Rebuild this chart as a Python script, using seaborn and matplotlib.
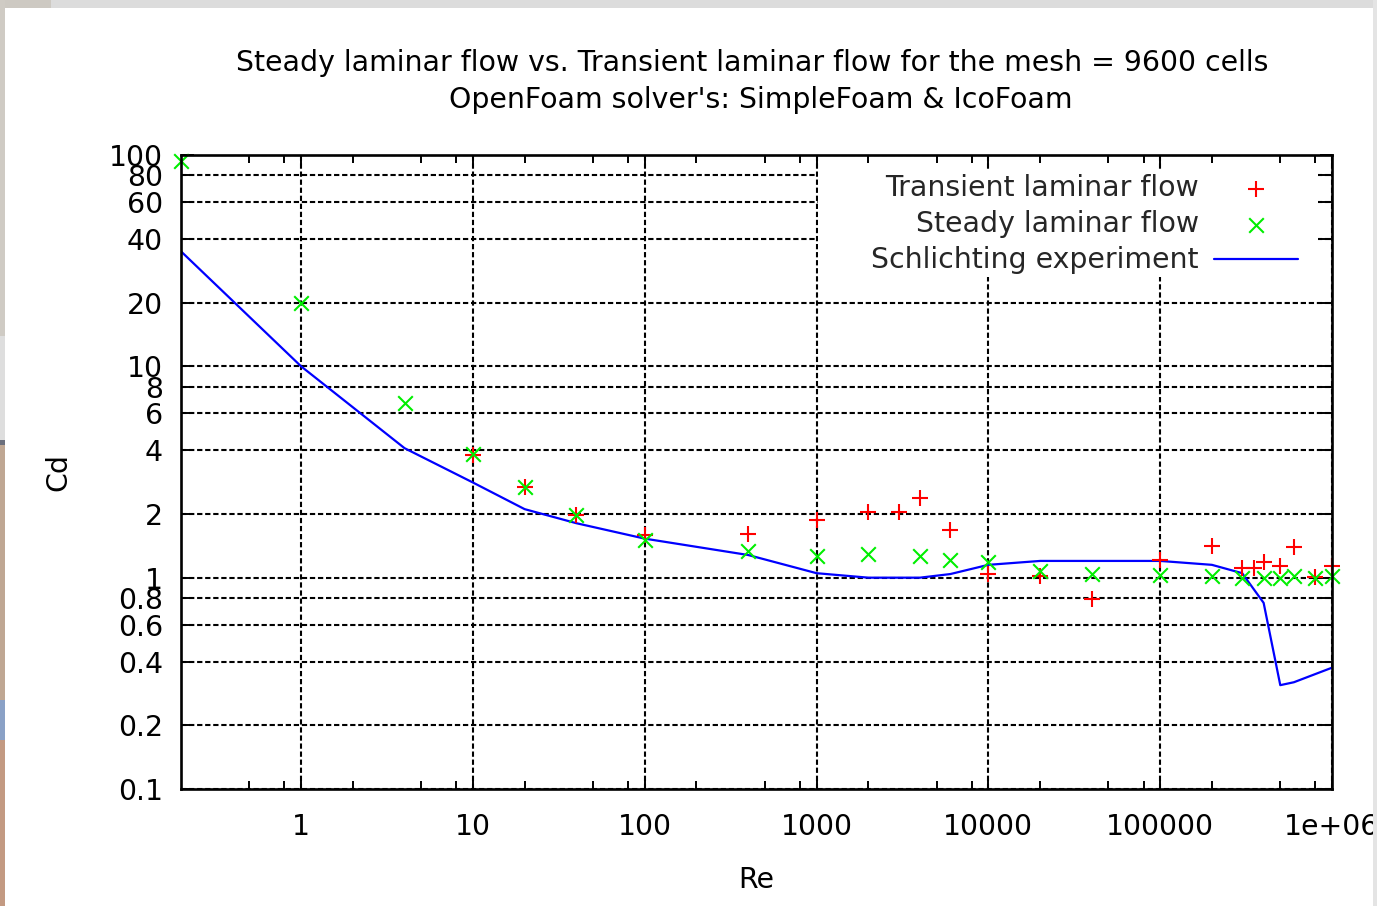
import matplotlib
matplotlib.use("Agg")
import matplotlib.pyplot as plt
from matplotlib.patches import Rectangle
from matplotlib.ticker import FixedLocator, FixedFormatter, NullFormatter
import numpy as np
import pandas as pd
import seaborn as sns

# Transient laminar flow (IcoFoam)
re_transient = [10, 20, 40, 100, 400, 1000, 2000, 3000, 4000, 6000, 10000, 20000,
                40000, 100000, 200000, 300000, 350000, 400000, 500000, 600000,
                800000, 1000000]
cd_transient = [3.82, 2.70, 1.98, 1.60, 1.61, 1.87, 2.05, 2.05, 2.37, 1.69, 1.04, 1.02,
                0.79, 1.21, 1.41, 1.11, 1.11, 1.19, 1.13, 1.40, 1.01, 1.13]

# Steady laminar flow (SimpleFoam)
re_steady = [0.2, 1, 4, 10, 20, 40, 100, 400, 1000, 2000, 4000, 6000, 10000, 20000,
             40000, 100000, 200000, 300000, 400000, 500000, 600000, 800000, 1000000]
cd_steady = [94, 20, 6.7, 3.85, 2.69, 1.98, 1.51, 1.34, 1.27, 1.30, 1.26, 1.21, 1.19,
             1.07, 1.04, 1.03, 1.02, 1.0, 1.0, 1.0, 1.02, 1.0, 1.02]

# Schlichting experimental curve
re_schlichting = [0.2, 1, 4, 10, 20, 40, 100, 400, 1000, 2000, 4000, 6000, 10000, 20000,
                  100000, 200000, 300000, 400000, 500000, 600000, 1000000]
cd_schlichting = [35, 10, 4.1, 2.82, 2.11, 1.81, 1.53, 1.28, 1.05, 1.0, 1.0, 1.04, 1.15,
                  1.20, 1.20, 1.15, 1.05, 0.76, 0.31, 0.32, 0.375]

y_ticks = [0.1, 0.2, 0.4, 0.6, 0.8, 1, 2, 4, 6, 8, 10, 20, 40, 60, 80, 100]
y_tick_labels = ["0.1", "0.2", "0.4", "0.6", "0.8", "1", "2", "4", "6", "8",
                 "10", "20", "40", "60", "80", "100"]
x_ticks = [1, 10, 100, 1000, 10000, 100000, 1000000]
x_tick_labels = ["1", "10", "100", "1000", "10000", "100000", "1e+06"]

title_line1 = "Steady laminar flow vs. Transient laminar flow for the mesh = 9600 cells"
title_line2 = "OpenFoam solver's: SimpleFoam & IcoFoam"

FS = 20.4

sns.set_theme(style="white")
plt.rcParams["font.family"] = ["DejaVu Sans"]
plt.rcParams["lines.scale_dashes"] = False

W, H = 1377, 906
fig = plt.figure(figsize=(W / 100, H / 100), dpi=100, facecolor="white")

# window chrome around the plot
def band(x0, y0, x1, y1, color):
    fig.patches.append(Rectangle((x0 / W, 1 - y1 / H), (x1 - x0) / W, (y1 - y0) / H,
                                 transform=fig.transFigure, facecolor=color,
                                 edgecolor="none", zorder=10))

L, R, T, B = 181, 1332, 155, 789
ax = fig.add_axes([L / W, 1 - B / H, (R - L) / W, (B - T) / H])
ax.set_xscale("log")
ax.set_yscale("log")
ax.set_xlim(0.2, 1e6)
ax.set_ylim(0.1, 100)

df_t = pd.DataFrame({"Re": re_transient, "Cd": cd_transient})
df_s = pd.DataFrame({"Re": re_steady, "Cd": cd_steady})
df_e = pd.DataFrame({"Re": re_schlichting, "Cd": cd_schlichting})

sns.scatterplot(data=df_t, x="Re", y="Cd", ax=ax, marker="+", color="#ff0000",
                s=120, linewidth=1.5, label="Transient laminar flow", zorder=4,
                clip_on=False)
sns.scatterplot(data=df_s, x="Re", y="Cd", ax=ax, marker="x", color="#00ee00",
                s=110, linewidth=1.5, label="Steady laminar flow", zorder=4,
                clip_on=False)
sns.lineplot(data=df_e, x="Re", y="Cd", ax=ax, color="#0000ff", linewidth=1.6,
             label="Schlichting experiment", zorder=3, estimator=None, sort=False)

# ticks and grid
ax.yaxis.set_major_locator(FixedLocator(y_ticks))
ax.yaxis.set_major_formatter(FixedFormatter(y_tick_labels))
ax.yaxis.set_minor_locator(FixedLocator([]))
ax.xaxis.set_major_locator(FixedLocator(x_ticks))
ax.xaxis.set_major_formatter(FixedFormatter(x_tick_labels))
minor_x = [m * 10.0 ** e for e in range(-1, 6) for m in (2, 5, 8)]
minor_x = [v for v in minor_x if 0.2 < v < 1e6]
ax.xaxis.set_minor_locator(FixedLocator(minor_x))
ax.xaxis.set_minor_formatter(NullFormatter())

ax.tick_params(axis="both", which="major", direction="in", length=9, width=1.4,
               color="black", labelsize=FS, labelcolor="black",
               top=True, right=True, bottom=True, left=True)
ax.tick_params(axis="x", which="major", pad=17)
ax.tick_params(axis="y", which="major", pad=13)
ax.tick_params(axis="x", which="minor", direction="in", length=6, width=1.4,
               color="black", top=True, bottom=True)
ax.set_axisbelow(True)
ax.grid(True, which="major", color="black", linewidth=1.5,
        linestyle=(0, (3.8, 2.0)))

for s in ax.spines.values():
    s.set_color("black")
    s.set_linewidth(1.9)
    s.set_zorder(5)

# opaque key area
kx0, kx1 = (818 - L) / (R - L), (1318 - L) / (R - L)
ky0, ky1 = (B - 277) / (B - T), (B - 171) / (B - T)
ax.add_patch(Rectangle((kx0, ky0), kx1 - kx0, ky1 - ky0, transform=ax.transAxes,
                       facecolor="white", edgecolor="none", zorder=1))

handles, labels = ax.get_legend_handles_labels()
leg = ax.legend(handles, labels, loc="upper right", frameon=False,
                markerfirst=False, fontsize=FS, handlelength=2.95,
                handletextpad=0.55, labelspacing=0.29, borderaxespad=0,
                borderpad=0, bbox_to_anchor=((1298 - L) / (R - L), (B - 174) / (B - T)))
leg.set_zorder(6)

ax.set_xlabel("Re", fontsize=FS, color="black")
ax.set_ylabel("Cd", fontsize=FS, color="black")
ax.xaxis.label.set_va("center")
ax.yaxis.label.set_va("center")
ax.xaxis.set_label_coords((756 - L) / (R - L), (B - 880) / (B - T))
ax.yaxis.set_label_coords((58 - L) / (R - L), 0.5)

fig.text(752.5 / W, 1 - 63 / H, title_line1, ha="center", va="center", fontsize=FS,
         color="black")
fig.text(761 / W, 1 - 100 / H, title_line2, ha="center", va="center", fontsize=FS,
         color="black")

band(0, 0, W, 8, "#dcdcdc")
band(0, 0, 51, 8, "#cdc9c2")
band(0, 0, 5, 336, "#cfcbc4")
band(0, 336, 5, 440, "#dedede")
band(0, 440, 5, 445, "#6b6f7c")
band(0, 445, 5, 700, "#bfa793")
band(0, 700, 5, 740, "#8aa1c6")
band(0, 740, 5, H, "#c39a82")
band(1373, 0, W, H, "#e4e4e4")

fig.savefig("out.png", dpi=100, facecolor="white")
